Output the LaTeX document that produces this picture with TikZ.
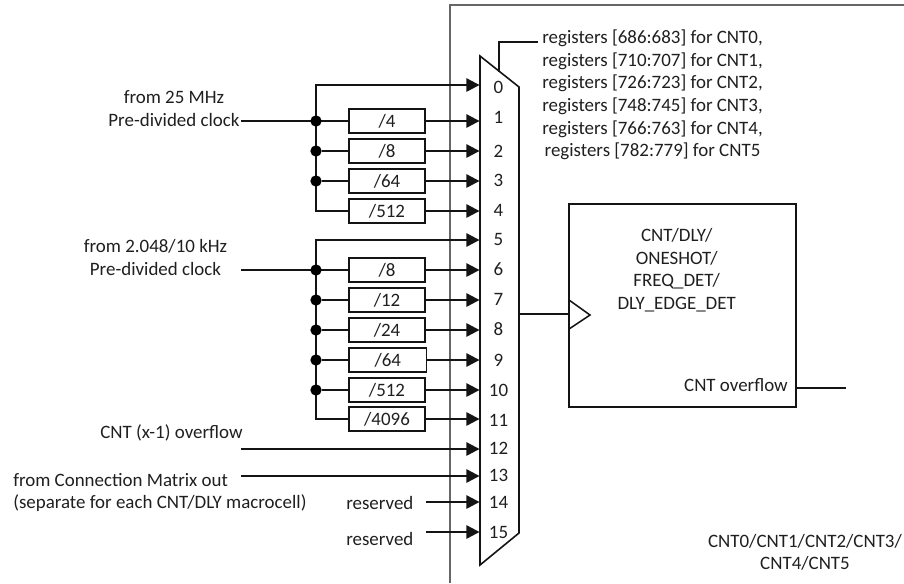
\documentclass[tikz,border=0pt]{standalone}
\usepackage{fontspec}
\setmainfont{Carlito}
\usetikzlibrary{arrows.meta,calc}
\tikzset{
  wire/.style={line width=1.15pt,black!92},
  arr/.style={wire,-{Triangle[length=9.8pt,width=10pt]}},
  divbox/.style={draw=black!92,line width=1.15pt,minimum width=57pt,minimum height=17.8pt,inner sep=0pt,anchor=center,font=\fontsize{14.2}{17}\selectfont,text=black!88},
  txt/.style={inner sep=0pt,font=\fontsize{14.2}{16.95}\selectfont,text=black!88},
  dotn/.style={circle,fill=black,inner sep=0pt,minimum size=8.5pt},
}
\begin{document}
\begin{tikzpicture}[x=0.75pt,y=-0.75pt]
\useasboundingbox (0,0) rectangle (904,583);
% frame
\draw[line width=0.95pt,black!60] (904,5) -- (450,5) -- (450,583);
% mux
\draw[line width=1.2pt,black!92] (480,56) -- (519,87) -- (519,533) -- (480,565) -- cycle;
\coordinate (sel) at (499,71.5);
% rows
\foreach \n/\y/\ly in {0/85/87,1/121/117,2/151/151,3/181/180,4/211/210,5/240/239,6/270/269,7/300/299,8/330/329,9/360/360,10/390/390,11/419/420,12/449/448,13/476/475,14/502/502,15/532/532}{
  \coordinate (in\n) at (479.5,\y);
  \node[txt] (lab\n) at (498.5,\ly) {\n};
}
% divider boxes
\foreach \n/\t in {1/{/4},2/{/8},3/{/64},4/{/512},6/{/8},7/{/12},8/{/24},10/{/512},11/{/4096}}{
  \node[divbox] (b\n) at (387,0 |- in\n) {\t};
  \draw[arr] (b\n) -- (in\n);
}
\node[divbox,minimum width=58.2pt] (b9) at (387.8,0 |- in9) {/64};
\draw[arr] (b9) -- (in9);
% group 1
\node[txt,align=center] (src1) at (174,108.5) {from 25 MHz\\Pre-divided clock};
\draw[wire] (241,121) coordinate (s1) -- (b1);
\draw[arr] (316,121) |- (in0);
\draw[wire] (316,121) |- (b4);
\foreach \n in {1,2,3}{
  \node[dotn] (d\n) at (316,0 |- in\n) {};
  \draw[wire] (d\n) -- (b\n);
}
% group 2
\node[txt,align=center] (src2) at (155.5,257.5) {from 2.048/10 kHz\\Pre-divided clock};
\draw[wire] (241,270) coordinate (s2) -- (b6);
\draw[arr] (316,270) |- (in5);
\draw[wire] (316,270) |- (b11);
\foreach \n in {6,7,8,9,10}{
  \node[dotn] (d\n) at (316,0 |- in\n) {};
  \draw[wire] (d\n) -- (b\n);
}
% other inputs
\node[txt,anchor=west] (ovf) at (100,433) {CNT (x-1) overflow};
\draw[arr] (241,449) coordinate (s12) -- (in12);
\node[txt,align=left,anchor=west] (cm) at (13,492.5) {from Connection Matrix out\\(separate for each CNT/DLY macrocell)};
\draw[arr] (241,476) coordinate (s13) -- (in13);
\node[txt,anchor=west] (r14) at (346,503) {reserved};
\draw[arr] (426,502) coordinate (s14) -- (in14);
\node[txt,anchor=west] (r15) at (346,539) {reserved};
\draw[arr] (426,532) coordinate (s15) -- (in15);
% select
\node[txt,align=center] (regs) at (652.5,95) {registers [686:683] for CNT0,\\registers [710:707] for CNT1,\\registers [726:723] for CNT2,\\registers [748:745] for CNT3,\\registers [766:763] for CNT4,\\registers [782:779] for CNT5};
\coordinate (regw) at (538,42);
\draw[wire] (sel) -- (499,42) -- (regw);
% counter
\node[draw=black!92,line width=1.15pt,minimum width=170.25pt,minimum height=152.25pt,inner sep=0pt] (cnt) at (682.5,305.5) {};
\draw[wire] (519,314) coordinate (mo) -- (569,314);
\draw[line width=1.15pt,black!92] (569,300) -- (590,315) -- (569,329);
\node[txt,align=center] (cntt) at (676.7,270) {CNT/DLY/\\ONESHOT/\\FREQ\_DET/\\DLY\_EDGE\_DET};
\node[txt,anchor=east] (ovt) at (788,385) {CNT overflow};
\draw[wire] (cnt.east |- 0,388) coordinate (oo) -- (846,388);
\node[txt,align=center] (foot) at (805,552.5) {CNT0/CNT1/CNT2/CNT3/\\CNT4/CNT5};
\end{tikzpicture}
\end{document}
